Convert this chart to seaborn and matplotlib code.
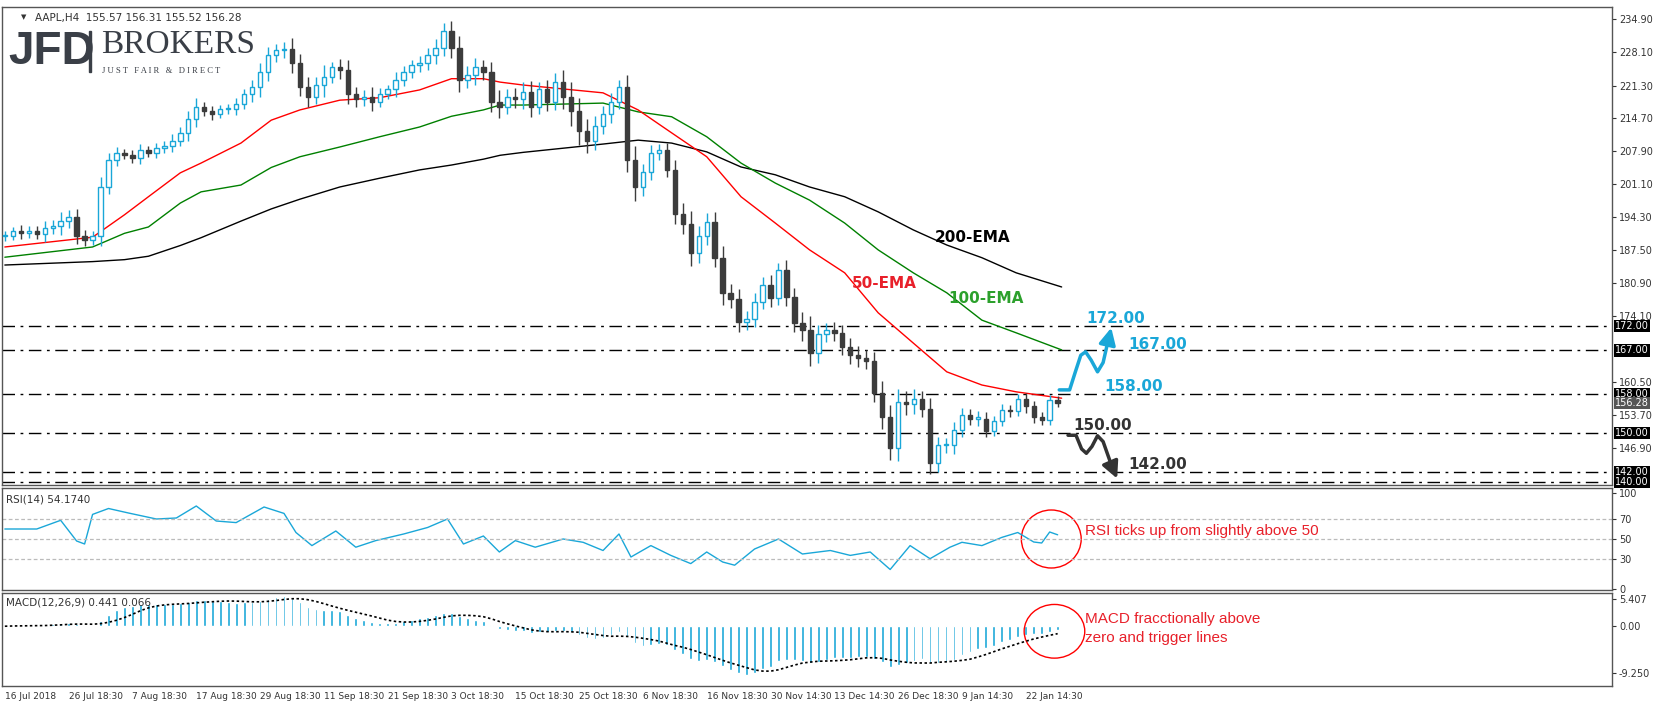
import matplotlib
matplotlib.use("Agg")
import matplotlib.pyplot as plt
from matplotlib.patches import Ellipse, Rectangle
import numpy as np
import pandas as pd
import seaborn as sns

# ---- data (one bar ~ one trading day) ----
closes = [190.5, 191.5, 191.0, 191.5, 190.8, 192.0, 192.5, 193.5, 194.3, 190.5,
          189.6, 190.5, 200.5, 206.0, 207.5, 207.0, 206.5, 208.0, 207.5, 208.5,
          209.0, 210.0, 211.5, 214.5, 217.0, 216.0, 215.5, 216.5, 216.5, 217.5,
          219.5, 221.0, 224.0, 227.5, 228.5, 228.8, 226.0, 221.0, 219.0, 221.5,
          223.0, 225.0, 224.5, 219.5, 218.5, 219.0, 218.0, 219.5, 220.5, 222.5,
          224.0, 225.5, 226.0, 227.5, 229.0, 232.5, 229.0, 222.5, 223.5, 225.0,
          224.0, 218.0, 217.0, 219.0, 218.5, 220.0, 217.0, 220.5, 218.0, 222.0,
          219.0, 216.0, 212.0, 210.0, 213.0, 215.5, 218.0, 221.0, 206.0, 200.5,
          203.5, 207.5, 208.0, 204.0, 195.0, 193.0, 187.0, 190.5, 193.3, 186.0,
          178.8, 177.5, 172.8, 173.5, 177.0, 180.5, 177.8, 183.5, 178.0, 172.6,
          171.2, 166.5, 170.3, 171.2, 170.5, 167.7, 166.0, 165.5, 164.8, 158.3,
          153.3, 147.0, 156.5, 156.0, 157.0, 155.0, 143.9, 147.5, 147.5, 150.7,
          153.7, 153.0, 153.0, 150.5, 152.6, 154.8, 154.5, 157.0, 155.5, 153.3,
          152.8, 156.8, 156.3]
wick = [1.0, 0.8, 1.2, 0.9, 1.0, 1.5, 1.2, 1.8, 1.4, 1.6,
        1.2, 1.0, 2.0, 1.5, 1.2, 0.8, 1.0, 1.3, 0.9, 1.1,
        1.0, 1.4, 1.2, 1.5, 1.8, 1.0, 1.2, 0.9, 1.1, 1.3,
        1.0, 1.5, 2.0, 1.8, 1.3, 1.5, 2.2, 1.8, 2.0, 1.5,
        2.5, 1.2, 1.8, 2.0, 1.5, 1.4, 2.0, 1.2, 1.0, 1.5,
        1.3, 1.1, 1.4, 1.5, 1.8, 1.6, 2.0, 2.5, 1.8, 2.0,
        1.6, 2.2, 2.4, 1.5, 1.8, 2.0, 2.2, 1.5, 2.0, 1.8,
        2.5, 3.0, 2.8, 2.5, 2.0, 1.6, 1.8, 1.5, 2.5, 2.8,
        1.8, 1.6, 1.4, 1.5, 2.0, 2.2, 2.6, 2.0, 1.8, 2.0,
        2.4, 1.8, 2.0, 1.6, 1.8, 1.5, 2.0, 1.4, 2.0, 1.8,
        2.2, 2.8, 2.0, 1.5, 1.6, 1.7, 1.8, 2.0, 1.6, 1.8,
        2.4, 2.5, 2.6, 2.2, 2.0, 1.6, 2.2, 1.8, 1.5, 1.7,
        1.4, 1.2, 1.5, 1.3, 1.0, 1.2, 1.1, 1.0, 1.3, 1.2,
        1.1, 1.0, 0.9]

date_labels = ["16 Jul 2018", "26 Jul 18:30", "7 Aug 18:30", "17 Aug 18:30",
               "29 Aug 18:30", "11 Sep 18:30", "21 Sep 18:30", "3 Oct 18:30",
               "15 Oct 18:30", "25 Oct 18:30", "6 Nov 18:30", "16 Nov 18:30",
               "30 Nov 14:30", "13 Dec 14:30", "26 Dec 18:30", "9 Jan 14:30",
               "22 Jan 14:30"]

# moving averages sampled along the chart (bar position, value)
ema_bars = [0, 11, 15, 18, 22, 24.6, 29.6, 33.4, 37, 42, 47, 52, 56, 60, 62.1,
            65, 75, 79.4, 83.6, 88, 92.3, 96.6, 100.9, 105.3, 109.5, 113.9,
            118.1, 122.5, 126.8, 132.5]
ema50 = [188.2, 190.2, 194.8, 198.5, 203.4, 205.4, 209.5, 214.2, 216.3, 218.3,
         218.8, 220.4, 222.7, 222.7, 222.0, 221.4, 219.8, 216.3, 211.6, 206.7,
         198.5, 193.1, 187.6, 182.9, 174.7, 168.5, 162.6, 159.9, 158.5, 157.2]
ema100 = [186.1, 188.2, 191.0, 192.3, 197.2, 199.5, 200.9, 204.5, 206.7, 208.7,
          210.8, 212.8, 215.0, 216.3, 217.3, 217.3, 217.7, 215.9, 214.9, 210.8,
          205.4, 201.3, 197.8, 193.1, 187.6, 182.9, 178.8, 173.2, 170.6, 167.1]
ema200 = [184.5, 185.2, 185.6, 186.3, 188.5, 190.1, 193.5, 196.0, 198.0, 200.5,
          202.3, 204.0, 205.0, 206.2, 207.0, 207.6, 209.3, 210.1, 209.5, 207.7,
          204.6, 203.0, 200.5, 198.5, 195.4, 191.7, 188.6, 186.0, 182.9, 180.0]

rsi_bars = [0, 4, 7, 9, 10, 11, 13, 15.5, 19, 21.5, 24, 26.5, 29, 32.5, 35, 36.5,
            38.5, 41.5, 44, 46.5, 50, 53, 55.5, 57.5, 60, 62, 64, 66.5, 70, 72.5,
            75, 77, 78.5, 81, 83.5, 86, 88, 90, 91.5, 94, 97, 100, 103.5, 106,
            108.5, 111, 113.5, 116, 118.5, 120, 122.5, 125, 127, 129, 130, 131, 132]
rsi = [60, 60, 68.7, 48, 45, 74.6, 80.5, 76, 70, 71, 83, 68, 66.4, 82, 75.6, 56.5,
       43.4, 58, 41.8, 48.4, 55, 61.5, 70, 45, 53, 37, 48.4, 41.8, 50, 46.7, 38.5,
       55, 32, 43.4, 33.6, 25.4, 37, 27, 23.8, 40, 50, 35, 38.5, 33.6, 37, 19.5,
       43.4, 30.3, 41.8, 46.7, 43.4, 51.6, 56.5, 47, 46, 57, 54.2]

levels = [172.0, 167.0, 158.0, 150.0, 142.0, 140.0]
price_ticks = [234.90, 228.10, 221.30, 214.70, 207.90, 201.10, 194.30, 187.50,
               180.90, 174.10, 160.50, 153.70, 146.90]
last_price = 156.28

# ---- derived frames ----
n = len(closes)
df = pd.DataFrame({"bar": np.arange(n), "close": closes, "wick": wick})
df["open"] = df["close"].shift(1).fillna(df["close"])
df["high"] = df[["open", "close"]].max(axis=1) + df["wick"]
df["low"] = df[["open", "close"]].min(axis=1) - df["wick"]
# MACD on bars longer than H4 -> shorter periods
ema_fast = df["close"].ewm(span=9, adjust=False).mean()
ema_slow = df["close"].ewm(span=19, adjust=False).mean()
df["macd"] = ema_fast - ema_slow
df["signal"] = df["macd"].rolling(6, min_periods=1).mean()

sns.set_style("white")
plt.rcParams["font.family"] = ["DejaVu Sans"]

W, H = 1655, 704
fig = plt.figure(figsize=(W / 100, H / 100), dpi=100)


def frac(top_px, bot_px):
    return [0.001, 1 - bot_px / H, 0.973, (bot_px - top_px) / H]


ax = fig.add_axes(frac(7, 485))
ax_r = fig.add_axes(frac(488, 590), sharex=ax)
ax_m = fig.add_axes(frac(593, 686), sharex=ax)

BLUE = "#1aa7d8"
DARK = "#3c3c3c"

# ---- candles ----
up = df["close"] >= df["open"]
ax.vlines(df["bar"], df["low"], df["high"], color=np.where(up, BLUE, DARK), lw=1, zorder=3)
body = (df["close"] - df["open"]).abs().clip(lower=0.25)
ax.bar(df["bar"][up], body[up], bottom=df["open"][up], width=0.55,
       facecolor="white", edgecolor=BLUE, lw=1, zorder=4)
ax.bar(df["bar"][~up], body[~up], bottom=df["close"][~up], width=0.55,
       facecolor=DARK, edgecolor=DARK, lw=1, zorder=4)

ema_df = pd.DataFrame({"bar": ema_bars, "e50": ema50, "e100": ema100, "e200": ema200})
sns.lineplot(data=ema_df, x="bar", y="e200", ax=ax, color="black", lw=1, zorder=2)
sns.lineplot(data=ema_df, x="bar", y="e100", ax=ax, color="green", lw=1, zorder=2)
sns.lineplot(data=ema_df, x="bar", y="e50", ax=ax, color="red", lw=1, zorder=2)

for lv in levels:
    ax.axhline(lv, color="black", lw=1, ls=(0, (9, 4, 2, 4)), zorder=1)

ax.text(121.3, 190.2, "200-EMA", fontsize=11, fontweight="bold", color="black", ha="center", va="center")
ax.text(110.3, 180.8, "50-EMA", fontsize=11, fontweight="bold", color="#e8202a", ha="center", va="center")
ax.text(123.0, 177.7, "100-EMA", fontsize=11, fontweight="bold", color="#2ca02c", ha="center", va="center")

# scenario arrows
bx = [132.2, 133.5, 134.2, 134.9, 135.5, 136.2, 137.0, 137.7, 138.4]
by = [158.9, 158.9, 162.5, 166.0, 166.7, 165.0, 162.6, 164.5, 169.5]
ax.plot(bx, by, color=BLUE, lw=2.5, solid_capstyle="round", zorder=5)
ax.annotate("", xy=(138.8, 172.2), xytext=(138.35, 169.0),
            arrowprops=dict(arrowstyle="-|>,head_width=0.5,head_length=1.0", color=BLUE, lw=2.5))
kx = [133.3, 134.3, 135.0, 135.6, 136.3, 137.0, 137.7, 138.8]
ky = [149.6, 149.6, 146.8, 145.9, 147.3, 149.5, 148.3, 143.2]
ax.plot(kx, ky, color="#333333", lw=2.5, solid_capstyle="round", zorder=5)
ax.annotate("", xy=(139.6, 140.2), xytext=(138.7, 143.6),
            arrowprops=dict(arrowstyle="-|>,head_width=0.5,head_length=1.0", color="#333333", lw=2.5))
ax.text(139.3, 173.6, "172.00", fontsize=11, fontweight="bold", color=BLUE, ha="center", va="center")
ax.text(144.6, 168.3, "167.00", fontsize=11, fontweight="bold", color=BLUE, ha="center", va="center")
ax.text(141.5, 159.6, "158.00", fontsize=11, fontweight="bold", color=BLUE, ha="center", va="center")
ax.text(137.6, 151.5, "150.00", fontsize=11, fontweight="bold", color="#333333", ha="center", va="center")
ax.text(144.6, 143.6, "142.00", fontsize=11, fontweight="bold", color="#333333", ha="center", va="center")

ax.set_xlim(-0.4, 201.5)
ax.set_ylim(139.4, 237.4)
ax.yaxis.tick_right()
ax.set_yticks(price_ticks)
ax.set_yticklabels([f"{t:.2f}" for t in price_ticks])
for lv in levels:
    ax.text(1.002, lv, f"{lv:.2f}", transform=ax.get_yaxis_transform(), fontsize=7,
            color="white", va="center", ha="left",
            bbox=dict(boxstyle="square,pad=0.12", fc="black", ec="none"))
ax.text(1.002, last_price, f"{last_price:.2f}", transform=ax.get_yaxis_transform(), fontsize=7,
        color="white", va="center", ha="left",
        bbox=dict(boxstyle="square,pad=0.12", fc="#555555", ec="none"))

ax.text(0.012, 0.985, "\u25BC", transform=ax.transAxes, fontsize=5, color="#333", va="top")
ax.text(0.021, 0.988, "AAPL,H4  155.57 156.31 155.52 156.28", transform=ax.transAxes,
        fontsize=7.5, color="#333", va="top")
# logo
ax.text(0.004, 0.905, "JFD", transform=ax.transAxes, fontsize=33, fontweight="bold",
        color="#3a3f47", va="center", family="Liberation Sans")
ax.add_patch(Rectangle((0.0543, 0.865), 0.0012, 0.085, transform=ax.transAxes, color="#3a3f47"))
ax.text(0.062, 0.921, "BROKERS", transform=ax.transAxes, fontsize=24, color="#3a3f47",
        va="center", family="Liberation Serif")
ax.text(0.0625, 0.867, "J U S T   F A I R   &   D I R E C T", transform=ax.transAxes, fontsize=6.2,
        color="#3a3f47", va="center", family="Liberation Serif")

# ---- RSI ----
rsi_df = pd.DataFrame({"bar": rsi_bars, "rsi": rsi})
sns.lineplot(data=rsi_df, x="bar", y="rsi", ax=ax_r, color=BLUE, lw=1)
for lv in (30, 50, 70):
    ax_r.axhline(lv, color="#bbbbbb", lw=0.9, ls=(0, (3, 2)))
ax_r.set_ylim(-1, 101)
ax_r.yaxis.tick_right()
ax_r.set_yticks([0, 30, 50, 70, 96])
ax_r.set_yticklabels(["0", "30", "50", "70", "100"])
ax_r.text(0.003, 0.94, "RSI(14) 54.1740", transform=ax_r.transAxes, fontsize=7.5, color="#333", va="top")
ax_r.add_patch(Ellipse((131.2, 50), 7.5, 58, fill=False, ec="red", lw=1))
ax_r.text(135.4, 58, "RSI ticks up from slightly above 50", fontsize=11, color="#e8202a", va="center",
          family="Liberation Sans")

# ---- MACD ----
ax_m.bar(df["bar"], df["macd"], width=0.35, color=BLUE)
sns.lineplot(data=df, x="bar", y="signal", ax=ax_m, color="black", lw=1.2, ls=(0, (1.5, 1.5)))
ax_m.set_ylim(-11.8, 6.56)
ax_m.yaxis.tick_right()
ax_m.set_yticks([5.407, 0.0, -9.25])
ax_m.set_yticklabels(["5.407", "0.00", "-9.250"])
ax_m.text(0.003, 0.95, "MACD(12,26,9) 0.441 0.066", transform=ax_m.transAxes, fontsize=7.5,
          color="#333", va="top")
ax_m.add_patch(Ellipse((131.6, -1.0), 7.6, 10.6, fill=False, ec="red", lw=1))
ax_m.text(135.4, 1.35, "MACD fracctionally above", fontsize=11, color="#e8202a", va="center",
          family="Liberation Sans")
ax_m.text(135.4, -2.3, "zero and trigger lines", fontsize=11, color="#e8202a", va="center",
          family="Liberation Sans")

ax_m.set_xticks(np.arange(0, n, 8))
ax_m.set_xticklabels(date_labels, ha="left")

for a in (ax, ax_r, ax_m):
    a.set_xlabel("")
    a.set_ylabel("")
    for s in a.spines.values():
        s.set_color("#555555")
        s.set_linewidth(1)
    a.tick_params(axis="y", labelsize=7, colors="#333", length=3, pad=2)
    a.tick_params(axis="x", labelsize=6.5, colors="#333", length=3, pad=1)
plt.setp(ax.get_xticklabels(), visible=False)
plt.setp(ax_r.get_xticklabels(), visible=False)
ax.tick_params(axis="x", length=0)
ax_r.tick_params(axis="x", length=0)

fig.savefig("out.png", dpi=100)
